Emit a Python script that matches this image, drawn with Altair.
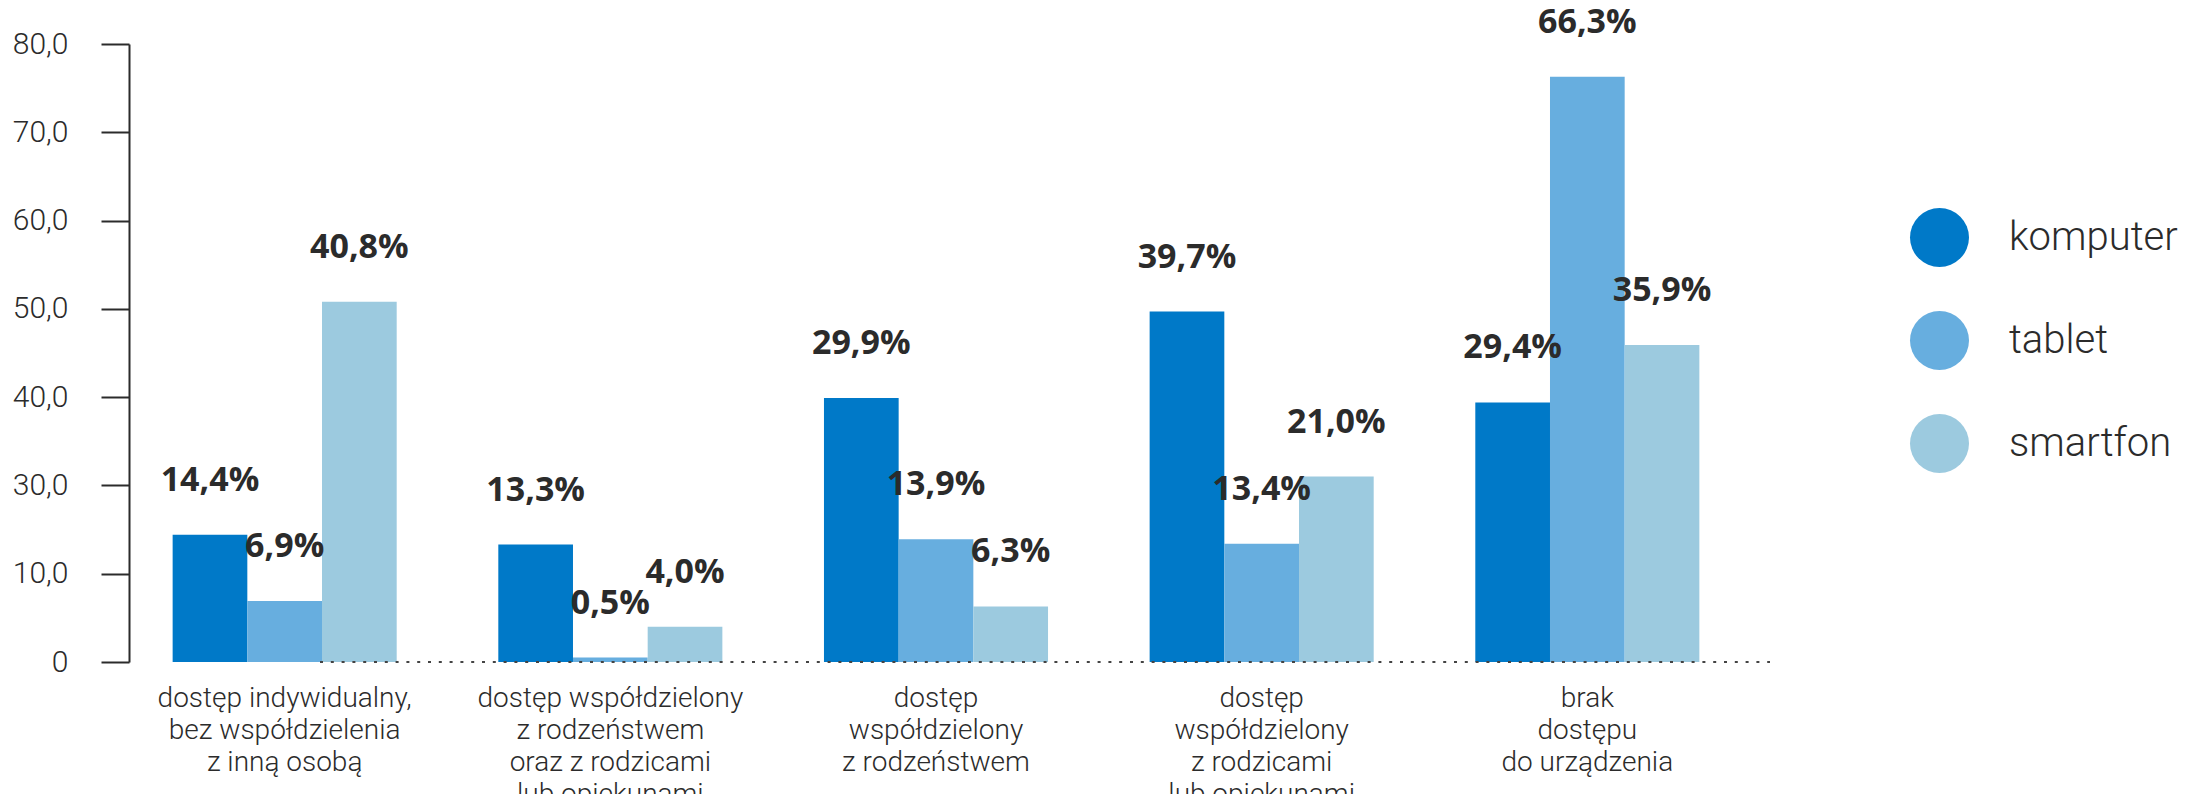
import altair as alt
import pandas as pd

categories = [
    "dostęp indywidualny,|bez współdzielenia|z inną osobą",
    "dostęp współdzielony|z rodzeństwem|oraz z rodzicami|lub opiekunami",
    "dostęp|współdzielony|z rodzeństwem",
    "dostęp|współdzielony|z rodzicami|lub opiekunami",
    "brak|dostępu|do urządzenia",
]
devices = ["komputer", "tablet", "smartfon"]
komputer = [14.4, 13.3, 29.9, 39.7, 29.4]
tablet = [6.9, 0.5, 13.9, 13.4, 66.3]
smartfon = [40.8, 4.0, 6.3, 21.0, 35.9]
y_tick_values = [0, 10, 20, 30, 40, 50, 60, 70]
y_tick_labels = ["0", "10,0", "30,0", "40,0", "50,0", "60,0", "70,0", "80,0"]
colors = ["#0079C8", "#67AEDF", "#9CCADF"]

rows = []
for i, c in enumerate(categories):
    for d, vals in zip(devices, [komputer, tablet, smartfon]):
        v = vals[i]
        rows.append({"category": c, "device": d, "value": v,
                     "label": f"{v:.1f}".replace(".", ",") + "%"})
df = pd.DataFrame(rows)

LIGHT = "Roboto"
BOLD = "Open Sans"
TXT = "#2b2b2b"
W, H = 1614, 618

label_arr = "[" + ",".join(f"'{t}'" for t in y_tick_labels) + "]"

x_enc = alt.X("category:N", sort=categories, title=None,
              scale=alt.Scale(paddingInner=0.312, paddingOuter=0.134),
              axis=alt.Axis(domain=False, ticks=False, labelAngle=0,
                            labelExpr="split(datum.label, '|')",
                            labelFont=LIGHT, labelFontWeight=300, labelFontSize=28,
                            labelColor=TXT, labelLineHeight=32, labelPadding=22,
                            labelAlign="center", labelBaseline="top", labelLimit=0))
xo_enc = alt.XOffset("device:N", sort=devices, scale=alt.Scale(paddingInner=0, paddingOuter=0))
y_enc = alt.Y("value:Q", title=None,
              scale=alt.Scale(domain=[0, 70], nice=False, zero=True),
              axis=alt.Axis(values=y_tick_values, labelExpr=f"{label_arr}[datum.value/10]",
                            grid=False, domainColor=TXT, domainWidth=2, tickColor=TXT,
                            tickWidth=2, tickSize=28, labelPadding=33,
                            labelFont=LIGHT, labelFontWeight=300, labelFontSize=30,
                            labelColor=TXT))

base = alt.Chart(df)

bars = base.mark_bar(strokeWidth=0).encode(
    x=x_enc, xOffset=xo_enc, y=y_enc,
    color=alt.Color("device:N", sort=devices,
                    scale=alt.Scale(domain=devices, range=colors),
                    legend=alt.Legend(title=None, orient="none", legendX=1781, legendY=164,
                                      symbolType="circle", symbolSize=3481,
                                      symbolStrokeWidth=0, symbolOpacity=1,
                                      labelFont=LIGHT, labelFontWeight=300, labelFontSize=40,
                                      labelColor=TXT, labelOffset=40, rowPadding=44,
                                      padding=0, labelLimit=0)),
)

texts = base.mark_text(font=BOLD, fontWeight="bold", fontSize=34, color=TXT,
                       baseline="middle", align="center", dy=-54).encode(
    x=alt.X("category:N", sort=categories), xOffset=alt.XOffset("device:N", sort=devices),
    y=alt.Y("value:Q"), text="label:N")

baseline = alt.Chart(pd.DataFrame({"v": [0]})).mark_rule(
    color="#444444", strokeWidth=2, strokeDash=[3, 7.8]).encode(
    x=alt.value(191), x2=alt.value(1641), y=alt.value(H))

chart = alt.layer(bars, texts, baseline).properties(
    width=W, height=H, autosize="none",
    padding={"left": 121, "top": 36, "right": 450, "bottom": 160},
).configure_view(stroke=None)

chart.save("out.html", embed_options={"renderer": "svg", "actions": False})
